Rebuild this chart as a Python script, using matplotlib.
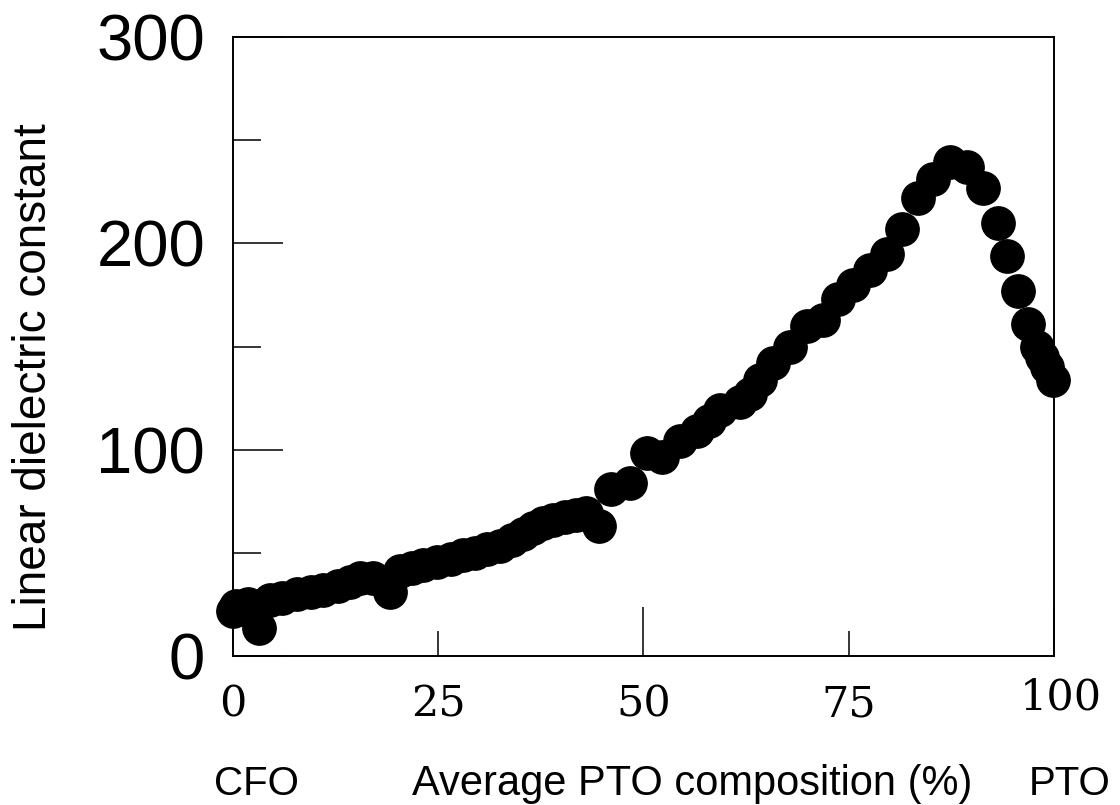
import matplotlib
matplotlib.use('Agg')
import matplotlib.pyplot as plt
from matplotlib.transforms import ScaledTranslation

# PTO composition (%) and linear dielectric constant
pto = [0.0, 0.4, 1.0, 1.8, 3.2, 4.5, 6.0, 7.8, 9.5, 11.0, 12.8, 14.2, 15.5,
       17.0, 19.1, 20.3, 21.8, 23.2, 24.8, 26.5, 28.0, 29.5, 31.0, 32.5,
       34.0, 35.3, 36.5, 37.8, 39.0, 40.5, 41.8, 43.0, 44.6, 46.0, 48.4,
       50.4, 52.2, 54.4, 56.5, 58.0, 59.3, 61.8, 63.0, 64.2, 65.8, 67.8,
       69.9, 71.9, 73.7, 75.5, 77.6, 79.7, 81.5, 83.4, 85.3, 87.3, 89.4,
       91.4, 93.2, 94.3, 95.6, 96.8, 97.9, 98.5, 99.1, 99.9]
eps = [22, 24, 23, 25, 13.6, 27, 28, 30, 31, 32, 34, 36, 38,
       38, 31, 41, 42.5, 44, 45.5, 47, 49, 50, 52, 53.5,
       56, 59, 62, 64.5, 66, 67.5, 68.5, 69.5, 63, 81, 84,
       98.5, 96.5, 104, 109, 114, 119, 123, 127, 134, 142, 150,
       160, 163, 173, 180, 187, 195, 207, 222, 231, 239.5, 237,
       227, 210, 194, 177, 161, 150, 145, 140, 134]

x_major = [0, 50, 100]
x_minor = [25, 75]
y_major = [0, 100, 200, 300]
y_minor = [50, 150, 250]

fig = plt.figure(figsize=(11.2, 8.05), dpi=100)
ax = fig.add_axes([0.208, 0.1851, 0.7331, 0.7689])

ax.plot(pto, eps, 'o', color='black', markersize=24, clip_on=False, zorder=3)

ax.set_xlim(0, 100)
ax.set_ylim(0, 300)

ax.set_xticks(x_major, labels=[str(v) for v in x_major])
ax.set_xticks(x_minor, labels=[str(v) for v in x_minor], minor=True)
ax.set_yticks(y_major, labels=[str(v) for v in y_major])
ax.set_yticks(y_minor, minor=True)

for s in ax.spines.values():
    s.set_linewidth(1.4)

ax.tick_params(axis='both', which='both', direction='in', width=1.1,
               top=False, right=False)
ax.tick_params(axis='x', which='major', length=35, pad=20, labelsize=31)
ax.tick_params(axis='x', which='minor', length=18, pad=20, labelsize=31)
ax.tick_params(axis='y', which='major', length=36, pad=20, labelsize=47)
ax.tick_params(axis='y', which='minor', length=20)

for lab in ax.get_xticklabels(which='both'):
    lab.set_fontfamily('DejaVu Serif')
for lab in ax.get_yticklabels():
    lab.set_fontfamily('Liberation Sans')

# the "100" label sits a little higher and to the right in the original
last = ax.get_xticklabels()[-1]
last.set_transform(last.get_transform()
                   + ScaledTranslation(5 / 72, 5 / 72, fig.dpi_scale_trans))

fig.text(0.030, 0.531, 'Linear dielectric constant', rotation=90,
         ha='center', va='center', fontsize=33, family='Liberation Sans')

fig.text(0.229, 0.0124, 'CFO', ha='center', va='baseline',
         fontsize=29, family='Liberation Sans')
fig.text(0.618, 0.0124, 'Average PTO composition (%)', ha='center',
         va='baseline', fontsize=30, family='Liberation Sans')
fig.text(0.955, 0.0124, 'PTO', ha='center', va='baseline',
         fontsize=29, family='Liberation Sans')

plt.savefig('out.png', dpi=100)
